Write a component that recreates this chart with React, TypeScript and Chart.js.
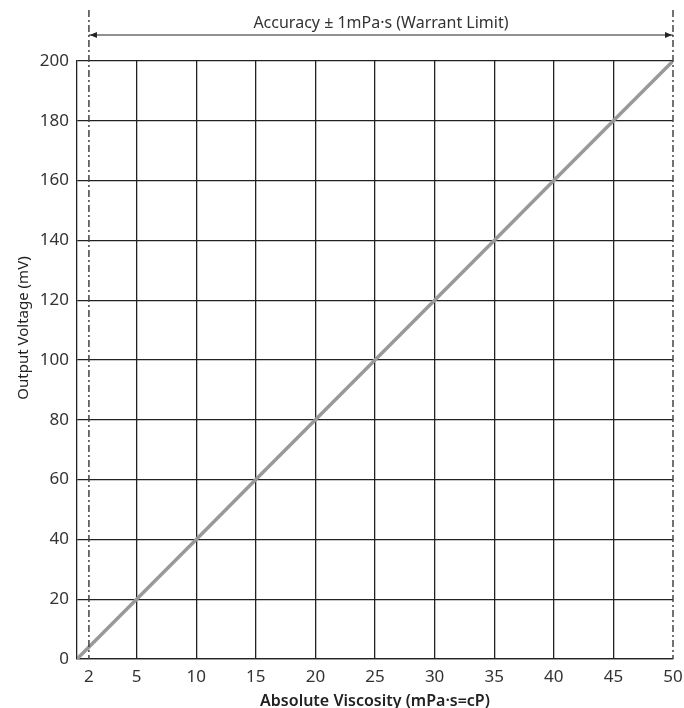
import React, { useEffect, useRef } from "react";
import { Chart, registerables } from "chart.js";

Chart.register(...registerables);

// Data
const viscosity = [0, 5, 10, 15, 20, 25, 30, 35, 40, 45, 50];
const voltage = [0, 20, 40, 60, 80, 100, 120, 140, 160, 180, 200];
const xTickPositions = [1, 5, 10, 15, 20, 25, 30, 35, 40, 45, 50];
const xTickLabels = ["2", "5", "10", "15", "20", "25", "30", "35", "40", "45", "50"];
const yTicks = [0, 20, 40, 60, 80, 100, 120, 140, 160, 180, 200];
const warrantRange = [1, 50]; // plotted positions of the "2" and "50" limits
const annotationText = "Accuracy \u00b1 1mPa\u00b7s (Warrant Limit)";
const xTitle = "Absolute Viscosity (mPa\u00b7s=cP)";
const yTitle = "Output Voltage (mV)";

const FONT = "'Noto Sans', 'DejaVu Sans', sans-serif";

const warrantPlugin = {
  id: "warrant",
  afterDatasetsDraw(chart: any) {
    const { ctx, chartArea, scales } = chart;
    const x = scales.x;
    const x1 = x.getPixelForValue(warrantRange[0]);
    const x2 = x.getPixelForValue(warrantRange[1]);
    ctx.save();
    // dash-dot limit lines
    ctx.setLineDash([7, 3, 2, 3]);
    ctx.lineWidth = 1.5;
    ctx.strokeStyle = "#444";
    [x1, x2].forEach((px) => {
      ctx.beginPath();
      ctx.moveTo(px, 10);
      ctx.lineTo(px, chartArea.bottom);
      ctx.stroke();
    });
    ctx.setLineDash([]);
    // arrow
    const ay = 35;
    ctx.strokeStyle = "#222";
    ctx.fillStyle = "#222";
    ctx.lineWidth = 1;
    ctx.beginPath();
    ctx.moveTo(x1, ay);
    ctx.lineTo(x2, ay);
    ctx.stroke();
    ctx.beginPath();
    ctx.moveTo(x1 + 1, ay);
    ctx.lineTo(x1 + 8, ay - 3);
    ctx.lineTo(x1 + 8, ay + 3);
    ctx.closePath();
    ctx.fill();
    ctx.beginPath();
    ctx.moveTo(x2 - 1, ay);
    ctx.lineTo(x2 - 8, ay - 3);
    ctx.lineTo(x2 - 8, ay + 3);
    ctx.closePath();
    ctx.fill();
    // annotation text
    ctx.font = `16px ${FONT}`;
    ctx.fillStyle = "#333";
    ctx.textAlign = "center";
    ctx.textBaseline = "middle";
    ctx.fillText(annotationText, (x1 + x2) / 2, 23);
    // axis titles
    ctx.fillStyle = "#222";
    ctx.font = `600 16px ${FONT}`;
    ctx.fillText(xTitle, (chartArea.left + chartArea.right) / 2, 701);
    ctx.font = `15px ${FONT}`;
    ctx.translate(24, 328);
    ctx.rotate(-Math.PI / 2);
    ctx.fillText(yTitle, 0, 0);
    ctx.restore();
  },
};

export default function App() {
  const ref = useRef<HTMLCanvasElement>(null);
  useEffect(() => {
    if (!ref.current) return;
    const chart = new Chart(ref.current, {
      type: "line",
      data: {
        datasets: [
          {
            data: viscosity.map((v, i) => ({ x: v, y: voltage[i] })),
            borderColor: "#999",
            borderWidth: 3.5,
            pointRadius: 0,
            fill: false,
            tension: 0,
          },
        ],
      },
      options: {
        animation: false,
        responsive: true,
        maintainAspectRatio: false,
        layout: { padding: { top: 61, right: 11, left: 0, bottom: 0 } },
        plugins: { legend: { display: false }, tooltip: { enabled: false } },
        scales: {
          x: {
            type: "linear",
            min: 0,
            max: 50,
            afterBuildTicks: (scale: any) => {
              scale.ticks = xTickPositions.map((v) => ({ value: v }));
            },
            afterFit: (scale: any) => {
              scale.height = 49;
              scale.paddingLeft = 0;
              scale.paddingRight = 0;
            },
            ticks: {
              autoSkip: false,
              maxRotation: 0,
              padding: 8,
              color: "#333",
              font: { family: FONT, size: 17 },
              callback: (v: any) => {
                const i = xTickPositions.indexOf(Number(v));
                return i >= 0 ? xTickLabels[i] : "";
              },
            },
            grid: {
              drawTicks: false,
              color: (c: any) =>
                c.tick && (c.tick.value === warrantRange[0] || c.tick.value === warrantRange[1])
                  ? "rgba(0,0,0,0)"
                  : "#222",
              lineWidth: 1.3,
            },
            border: { display: true, color: "#222", width: 1.3 },
            title: { display: false },
          },
          y: {
            type: "linear",
            min: 0,
            max: 200,
            afterBuildTicks: (scale: any) => {
              scale.ticks = yTicks.map((v) => ({ value: v }));
            },
            afterFit: (scale: any) => {
              scale.width = 77;
              scale.paddingTop = 0;
              scale.paddingBottom = 0;
            },
            ticks: {
              padding: 8,
              color: "#333",
              font: { family: FONT, size: 17 },
            },
            grid: { drawTicks: false, color: "#222", lineWidth: 1.3 },
            border: { display: true, color: "#222", width: 1.3 },
            title: { display: false },
          },
        },
      },
      plugins: [warrantPlugin],
    });
    return () => chart.destroy();
  }, []);
  return (
    <div style={{ position: "absolute", left: 0, top: 0, width: 684, height: 708 }}>
      <canvas ref={ref} />
    </div>
  );
}
